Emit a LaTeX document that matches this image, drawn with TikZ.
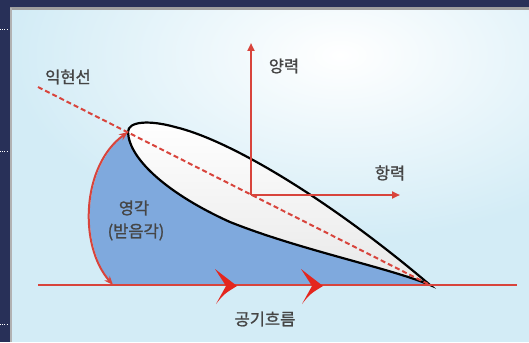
\documentclass[tikz,border=0pt]{standalone}
\usepackage{fontspec}
\setmainfont{Noto Sans CJK KR}
\newfontfamily\lblfont{Noto Sans CJK KR}[FakeBold=1.2]
\usetikzlibrary{arrows.meta}
\definecolor{navy}{HTML}{283058}
\definecolor{skyb}{HTML}{D3ECF6}
\definecolor{wingblue}{HTML}{7FA9DD}
\definecolor{forcered}{HTML}{D8443C}
\definecolor{chevred}{HTML}{E4261E}
\definecolor{labelgray}{HTML}{454545}
\begin{document}
\begin{tikzpicture}[x=1pt,y=-1pt,
  lbl/.style={text=labelgray, font=\lblfont\fontsize{16.5}{18}\selectfont, inner sep=0pt},
  redline/.style={draw=forcered, line width=2pt},
  force/.style={draw=forcered, line width=2.2pt, -{Triangle[length=8pt,width=7pt]}},
  chevron/.style={fill=chevred}
  ]
% frame and background
\useasboundingbox (0,0) rectangle (529,342);
\fill[navy] (0,0) rectangle (529,342);
\begin{scope}
  \clip (10,8) rectangle (529,342);
  \fill[skyb] (10,8) rectangle (529,342);
  \shade[inner color=white, outer color=skyb] (340,55) ellipse [x radius=330, y radius=185];
\end{scope}
\draw[gray!75, line width=2.5pt] (10,8.5) -- (529,8.5);
\draw[gray!60, line width=1.5pt] (10.8,8) -- (10.8,342);
\foreach \yy in {30,151,324}
  \draw[white, line width=1pt, dash pattern=on 1pt off 1.2pt] (0,\yy) -- (8,\yy);

% key points
\coordinate (LE) at (128,132);
\coordinate (TE) at (430,285);
\coordinate (O) at (251,195);
\coordinate (liftEnd) at (251,43);
\coordinate (dragEnd) at (400,195);
\coordinate (chordStart) at (38,87);
\coordinate (baseL) at (38,285);
\coordinate (baseR) at (517,285);
\coordinate (arcFoot) at (113,285);

% angle of attack region
\fill[wingblue] (arcFoot) .. controls (78,245) and (82,165) .. (LE)
  .. controls (129,160) and (170,195) .. (230,222)
  .. controls (300,250) and (390,268) .. (TE) -- cycle;

% airfoil
\shade[top color=white, bottom color=gray!18, draw=black, line width=2.2pt]
  (LE) .. controls (128,121) and (150,120) .. (175,127)
  .. controls (230,140) and (330,200) .. (TE)
  .. controls (390,268) and (300,250) .. (230,222)
  .. controls (170,195) and (129,160) .. (LE) -- cycle;

% chord line and free stream line
\draw[redline, dash pattern=on 5pt off 3pt] (chordStart) -- (TE);
\draw[redline] (baseL) -- (baseR);

% angle arc
\draw[redline, {Stealth[length=9pt,width=7pt]}-{Stealth[length=9pt,width=7pt]}]
  (LE) .. controls (82,165) and (78,245) .. (arcFoot);

% forces
\draw[force] (O) -- (liftEnd);
\draw[force] (O) -- (dragEnd);

% flow chevrons
\foreach \xx in {0,86}
  \fill[chevron, xshift=\xx] (215,269) .. controls (224,276) .. (237,286)
    .. controls (224,294) .. (216,304) -- (226,286) -- cycle;

% labels
\node[lbl] (chordLbl) at (68,77) {익현선};
\node[lbl] (liftLbl) at (284,66) {양력};
\node[lbl] (dragLbl) at (390,173) {항력};
\node[lbl] (aoaLbl) at (134,208) {영각};
\node[lbl] (aoaSub) at (136,232) {(받음각)};
\node[lbl] (flowLbl) at (265,319) {공기흐름};
\end{tikzpicture}
\end{document}
